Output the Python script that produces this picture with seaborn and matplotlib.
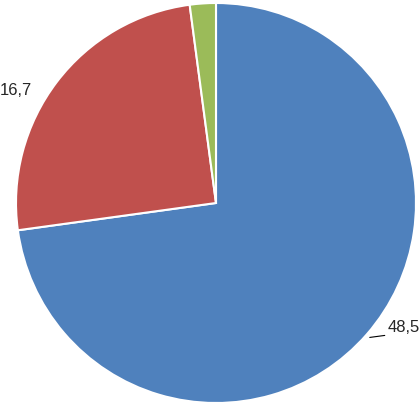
import numpy as np
import matplotlib
matplotlib.use("Agg")
import matplotlib.pyplot as plt
import seaborn as sns

# data
categories = ["A", "B", "C"]
values = [48.5, 16.7, 1.4]
labels = ["48,5", "16,7", ""]
colors = ["#4F81BD", "#C0504D", "#9BBB59"]

sns.set_style("white")
plt.rcParams['font.family'] = ['Liberation Sans', 'DejaVu Sans']
palette = sns.color_palette(colors)

fig = plt.figure(figsize=(4.19, 4.07), dpi=100)
ax = fig.add_axes([0, 0, 1, 1])

wedges, _ = ax.pie(values, colors=palette, startangle=90, counterclock=False,
                   radius=1.0, wedgeprops=dict(edgecolor='white', linewidth=1.5))

# data labels placed around the wedge mid-angles
for w, lab in zip(wedges, labels):
    if not lab:
        continue
    mid = np.deg2rad((w.theta1 + w.theta2) / 2)
    cx, cy = np.cos(mid), np.sin(mid)
    if cx > 0:
        ax.plot([cx + 0.015, cx + 0.09], [cy - 0.015, cy - 0.005], color='black', lw=0.8)
        ax.text(cx + 0.105, cy + 0.035, lab, ha='left', va='center', fontsize=12)
    else:
        ax.text(cx - 0.125, cy - 0.045, lab, ha='right', va='center', fontsize=12)

ax.set_xlim(-1.08, 1.015)
ax.set_ylim(-1.02, 1.015)
ax.set_aspect('equal')
ax.axis('off')

fig.savefig('out.png', dpi=100)
